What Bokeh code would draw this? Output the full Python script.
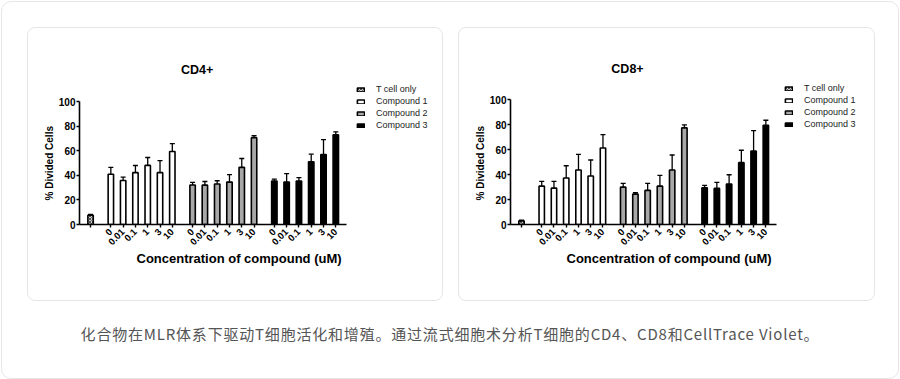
import math
from bokeh.plotting import figure
from bokeh.models import (ColumnDataSource, Range1d, FixedTicker, Whisker, TeeHead,
                          Legend, LegendItem, Label, Div, Title)
from bokeh.layouts import column, row
from bokeh.embed import file_html
from bokeh.resources import INLINE

# ---------------- data ----------------
conc_labels = ["0", "0.01", "0.1", "1", "3", "10"]
series_names = ["T cell only", "Compound 1", "Compound 2", "Compound 3"]

# CD4+ : mean and SD (% divided cells)
cd4_tcell = [7.5]
cd4_tcell_sd = [0.8]
cd4_c1 = [40.9, 35.8, 42.2, 48.1, 42.2, 59.4]
cd4_c1_sd = [5.6, 2.7, 5.8, 6.4, 9.7, 6.4]
cd4_c2 = [32.1, 32.0, 32.9, 34.5, 46.5, 70.6]
cd4_c2_sd = [2.1, 3.0, 2.7, 6.1, 7.2, 1.6]
cd4_c3 = [35.3, 34.5, 35.3, 51.1, 57.0, 73.0]
cd4_c3_sd = [1.6, 6.9, 2.9, 6.1, 12.0, 2.4]

# CD8+
cd8_tcell = [2.9]
cd8_tcell_sd = [0.6]
cd8_c1 = [30.7, 29.1, 37.2, 43.6, 38.8, 61.2]
cd8_c1_sd = [3.8, 5.4, 9.8, 12.5, 12.8, 10.7]
cd8_c2 = [29.9, 24.3, 27.3, 30.7, 43.6, 77.3]
cd8_c2_sd = [3.0, 1.1, 5.6, 8.6, 12.0, 2.4]
cd8_c3 = [29.4, 28.9, 32.4, 49.5, 58.8, 79.4]
cd8_c3_sd = [1.9, 4.8, 7.4, 9.9, 16.3, 4.0]

y_ticks = [0, 20, 40, 60, 80, 100]
y_max = 100
x_title = "Concentration of compound (uM)"
y_title = "% Divided Cells"
caption = "化合物在MLR体系下驱动T细胞活化和增殖。通过流式细胞术分析T细胞的CD4、CD8和CellTrace Violet。"

# ---------------- styling ----------------
FONT = "Liberation Sans"
GAP = 1.65
X_PAD_L = 0.9
X_PAD_R = 0.87
BAR_W = 0.44
C2_GRAY = "#a8a8a8"


def group_positions():
    n = len(conc_labels)
    s1 = GAP
    s2 = s1 + n - 1 + GAP
    s3 = s2 + n - 1 + GAP
    return [0.0], [s1 + i for i in range(n)], [s2 + i for i in range(n)], [s3 + i for i in range(n)]


def make_chart(title, tc, tc_sd, c1, c1_sd, c2, c2_sd, c3, c3_sd,
               W, H, left, axis_y, data_w, data_h, top, right, legend_loc, title_off,
               xt_off, yt_off):
    pt, p1x, p2x, p3x = group_positions()
    x0 = -X_PAD_L
    x1 = p3x[-1] + X_PAD_R
    fw = W - left - right
    fh = axis_y - top
    slot_px = data_w / (x1 - x0)
    unit_px = data_h / y_max
    x_end = x0 + fw / slot_px
    y_end = fh / unit_px
    p = figure(width=W, height=H, output_backend="svg", toolbar_location=None,
               x_range=Range1d(x0, x_end), y_range=Range1d(0, y_end),
               min_border_left=left, min_border_right=right,
               min_border_top=top, min_border_bottom=H - axis_y)
    p.border_fill_color = None
    p.background_fill_color = None
    p.outline_line_color = None
    p.xgrid.visible = False
    p.ygrid.visible = False

    groups = [
        (pt, tc, tc_sd, dict(fill_color="#d0d0d0", hatch_pattern="x", hatch_color="#333333",
                             hatch_scale=3, hatch_weight=0.8)),
        (p1x, c1, c1_sd, dict(fill_color="white")),
        (p2x, c2, c2_sd, dict(fill_color=C2_GRAY)),
        (p3x, c3, c3_sd, dict(fill_color="black")),
    ]
    items = []
    for name, (xs, vals, sds, style) in zip(series_names, groups):
        src = ColumnDataSource(dict(x=xs, top=vals, upper=[v + s for v, s in zip(vals, sds)]))
        w = Whisker(source=src, base="x", lower="top", upper="upper",
                    line_color="black", line_width=1.3,
                    upper_head=TeeHead(size=5, line_width=1.3, line_color="black"),
                    lower_head=None, level="glyph")
        p.add_layout(w)
        r = p.vbar(x="x", top="top", bottom=0, width=BAR_W, source=src,
                   line_color="black", line_width=1.6, **style)
        items.append(LegendItem(label=name, renderers=[r]))

    legend = Legend(items=items, location=legend_loc,
                    label_text_font=FONT, label_text_font_size="9px", label_text_color="#222222",
                    glyph_width=9, glyph_height=5, label_height=10, label_standoff=11,
                    spacing=2, padding=0, margin=0, border_line_color=None,
                    background_fill_alpha=0)
    p.add_layout(legend)

    # x axis
    all_x = pt + p1x + p2x + p3x
    overrides = {pt[0]: ""}
    for xs in (p1x, p2x, p3x):
        for xv, lab in zip(xs, conc_labels):
            overrides[xv] = lab
    p.xaxis.ticker = FixedTicker(ticks=all_x)
    p.xaxis.major_label_overrides = overrides
    p.xaxis.major_label_orientation = math.pi / 4
    p.xaxis.bounds = (x0, x1)

    p.yaxis.ticker = FixedTicker(ticks=y_ticks)
    p.yaxis.bounds = (0, y_max)

    for ax in (p.xaxis[0], p.yaxis[0]):
        ax.axis_line_color = "black"
        ax.axis_line_width = 1.6
        ax.major_tick_line_color = "black"
        ax.major_tick_line_width = 1.4
        ax.major_tick_in = 0
        ax.minor_tick_line_color = None
        ax.major_label_text_font = FONT
        ax.major_label_text_font_style = "bold"
        ax.major_label_text_color = "black"
    p.xaxis.major_label_text_font_size = "9.5px"
    p.yaxis.major_label_text_font_size = "10px"
    p.xaxis.major_tick_out = 3
    p.yaxis.major_tick_out = 3
    p.xaxis.major_label_standoff = 3
    p.yaxis.major_label_standoff = 1

    # axis titles as side-panel titles so they can be placed like the original
    p.add_layout(Title(text=x_title, align="left", offset=xt_off, vertical_align="top",
                       standoff=0, text_font=FONT, text_font_style="bold",
                       text_font_size="13px", text_color="black"), "below")
    p.add_layout(Title(text=y_title, align="left", offset=yt_off, vertical_align="middle",
                       standoff=0, text_font=FONT, text_font_style="bold",
                       text_font_size="10px", text_color="black"), "left")

    # chart title placed above the plotted area (pixel offsets converted to data units)
    p.add_layout(Label(x=x0 + title_off[0] / slot_px, y=y_max + title_off[1] / unit_px,
                       text=title, text_align="center",
                       text_baseline="middle", text_font=FONT, text_font_style="bold",
                       text_font_size="12.5px", text_color="black"))
    return p


panel_style = {"border": "1px solid #e6e6e6", "border-radius": "8px", "overflow": "hidden",
               "background": "white"}

p_cd4 = make_chart("CD4+", cd4_tcell, cd4_tcell_sd, cd4_c1, cd4_c1_sd, cd4_c2, cd4_c2_sd,
                   cd4_c3, cd4_c3_sd, W=416, H=274, left=51, axis_y=199, data_w=267, data_h=125,
                   top=20, right=6, legend_loc=(277, 94), title_off=(117.7, 32),
                   xt_off=57, yt_off=24)
p_cd8 = make_chart("CD8+", cd8_tcell, cd8_tcell_sd, cd8_c1, cd8_c1_sd, cd8_c2, cd8_c2_sd,
                   cd8_c3, cd8_c3_sd, W=417, H=274, left=51, axis_y=196, data_w=266, data_h=125,
                   top=20, right=6, legend_loc=(274, 95), title_off=(117, 31),
                   xt_off=56, yt_off=24)
p_cd4.styles = panel_style
p_cd8.styles = panel_style
p_cd4.margin = (25, 0, 0, 25)
p_cd8.margin = (25, 0, 0, 15)

cap = Div(text=('<div style="width:896px;text-align:center;font-family:\'Noto Sans CJK SC\';'
                'font-size:15px;letter-spacing:0.8px;line-height:20px;color:#555555;">'
                + caption + '</div>'),
          width=896, height=20, margin=(23, 0, 0, 0))

root = column(row(p_cd4, p_cd8), cap, width=898, height=378, margin=(1, 0, 0, 1),
              styles={"border": "1px solid #e6e6e6", "border-radius": "10px",
                      "background": "white"})

open("out.html", "w").write(file_html(root, INLINE))
